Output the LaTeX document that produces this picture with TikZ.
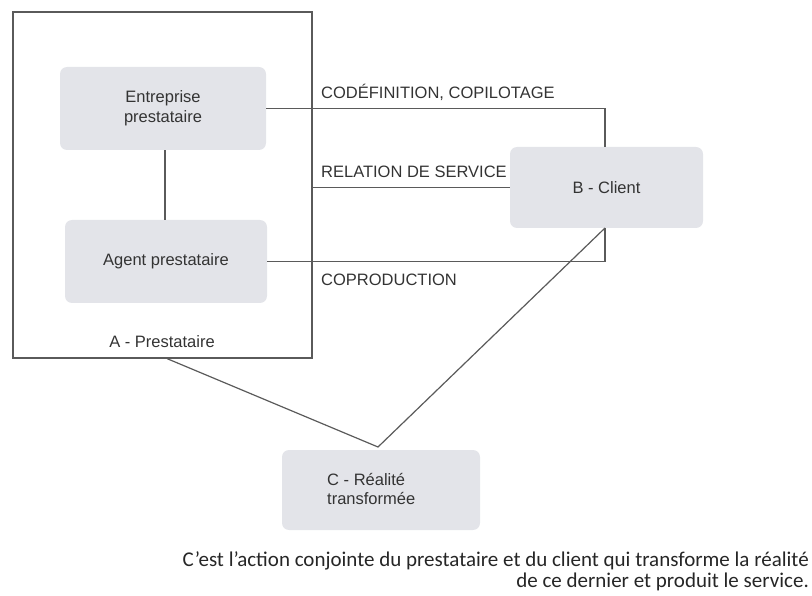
\documentclass[tikz,border=0pt]{standalone}
\usepackage{fontspec}
\setmainfont{Liberation Sans}
\newfontfamily\capfont{Carlito}
\definecolor{boxfill}{HTML}{E3E4E9}
\definecolor{linecol}{HTML}{5A5A5A}
\definecolor{txtcol}{HTML}{333333}
\begin{document}
\begin{tikzpicture}[x=1pt,y=-1pt,
  every node/.style={inner sep=0pt,text=txtcol},
  softbox/.style={fill=boxfill,rounded corners=7pt,align=center,
    font=\fontsize{16.5}{20}\selectfont},
  link/.style={draw=linecol,line width=1.2pt},
  lbl/.style={anchor=west,font=\fontsize{16.5}{19}\selectfont},
  captext/.style={anchor=east,text=black!85,font=\capfont\fontsize{21}{22}\selectfont}]
\useasboundingbox (0,0) rectangle (812,596);

% frame of the service provider
\node[link,fill=none,minimum width=299pt,minimum height=346pt] (prov) at (162.5,185) {};
\node[font=\fontsize{16.5}{19}\selectfont] (provlbl) at (162,342) {A - Prestataire};

% grey boxes
\node[softbox,minimum width=206pt,minimum height=83pt] (ent) at (163,108.5) {Entreprise\\prestataire};
\node[softbox,minimum width=202pt,minimum height=83pt] (agent) at (166,261.5) {Agent prestataire};
\node[softbox,minimum width=193pt,minimum height=81pt] (client) at (606.5,187.5) {B - Client};
\node[softbox,minimum width=198pt,minimum height=80pt] (real) at (381,490) {};
\node[align=left,anchor=west,font=\fontsize{16.5}{19}\selectfont] (reallbl) at (327,489) {C - Réalité\\transformée};

\coordinate (apex) at (378,447);
\coordinate (topcorner) at (605,147);
\coordinate (botcorner) at (605,228);

% connectors
\draw[link] (ent.south -| 165,0) -- (agent.north -| 165,0);
\draw[link] (ent.east) -- (ent.east -| topcorner) -- (topcorner);
\draw[link] (prov.east |- client.west) -- (client.west);
\draw[link] (agent.east) -- (agent.east -| botcorner) -- (botcorner);
\draw[link] (prov.south -| 167,0) -- (apex) -- (botcorner);

% relation labels
\node[lbl] (l1) at (321,92) {CODÉFINITION, COPILOTAGE};
\node[lbl] (l2) at (321,172) {RELATION DE SERVICE};
\node[lbl] (l3) at (321,280) {COPRODUCTION};

% caption
\node[captext] (cap1) at (809,561) {C’est l’action conjointe du prestataire et du client qui transforme la réalité};
\node[captext] (cap2) at (809,582) {de ce dernier et produit le service.};
\end{tikzpicture}
\end{document}
